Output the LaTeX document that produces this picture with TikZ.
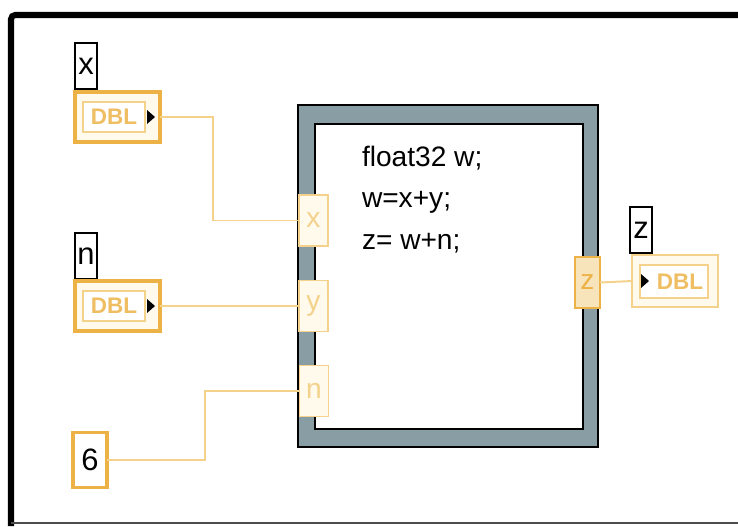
\documentclass[tikz,border=0pt]{standalone}
\usepackage{fontspec}
\setmainfont{Liberation Sans}
\usepackage{xcolor}
\usepackage{tikz}
\definecolor{lvorange}{RGB}{236,178,70}
\definecolor{lvlight}{RGB}{244,210,140}
\definecolor{lvfill}{RGB}{255,250,236}
\definecolor{lvgray}{RGB}{136,158,164}
\newcommand{\lvtxt}[1]{\fontsize{#1}{#1}\selectfont}

\begin{document}
\begin{tikzpicture}[
    x=0.25mm, y=-0.25mm,
    every node/.style={inner sep=0pt, outer sep=0pt},
    lbl/.style={draw, line width=1.4pt, fill=white, minimum width=5.5mm,
                minimum height=11.5mm, font=\lvtxt{22}},
    ctl/.style={draw=lvorange, line width=2.8pt, fill=lvfill,
                minimum width=21.25mm, minimum height=12.5mm},
    ind/.style={draw=lvlight, line width=1.4pt, fill=lvfill,
                minimum width=21.5mm, minimum height=13mm},
    dbl/.style={draw=lvlight, line width=1.2pt, fill=white,
                minimum width=15.5mm, minimum height=7.5mm,
                text=lvorange!85, font=\lvtxt{16}\bfseries},
    tun/.style={draw=lvlight, line width=1.4pt, fill=lvfill,
                minimum width=7.25mm, minimum height=12.75mm,
                text=lvlight, font=\lvtxt{20}},
    wire/.style={lvlight, line width=1.4pt},
  ]
  \useasboundingbox (0,0) rectangle (738,526);

  %% ---- panel frame ---------------------------------------------------
  \draw[line width=4.3pt, rounded corners=3pt] (11,526) -- (11,15) -- (738,15);
  \draw[black!70, line width=1.2pt] (11,523) -- (738,523);

  %% ---- formula node --------------------------------------------------
  \node[draw, line width=1.4pt, fill=lvgray, minimum width=75mm,
        minimum height=85.5mm] (fnout) at (448,276) {};
  \node[draw, line width=1.4pt, fill=white, minimum width=67mm,
        minimum height=76.25mm] (fnin) at (449,276.5) {};
  \node[font=\lvtxt{20}, align=left, anchor=north west] (code) at (362,146)
    {float32 w;\\[9.5pt] w=x+y;\\[9.5pt] z= w+n;};

  \node[tun] (tx) at (313.5,220.5) {x};
  \node[tun] (ty) at (313.5,306) {y};
  \node[tun] (tn) at (314,391) {n};
  \node[tun, draw=lvorange, line width=2pt, fill=lvlight!60,
        text=lvorange, minimum width=6.25mm] (tz) at (587.5,282.5) {z};

  %% ---- controls and constant (left) ----------------------------------
  \node[lbl] (xlbl) at (86,66) {\raisebox{-1.2mm}{x}};
  \node[ctl] (xctl) at (117.5,117) {};
  \node[dbl] (xdbl) at (114,117) {DBL};
  \fill (xctl.east) ++(-13,-7) -- ++(8,7) -- ++(-8,7) -- cycle;

  \node[lbl] (nlbl) at (86,256) {\raisebox{-1.2mm}{n}};
  \node[ctl] (nctl) at (117.5,306) {};
  \node[dbl] (ndbl) at (114,306) {DBL};
  \fill (nctl.east) ++(-13,-7) -- ++(8,7) -- ++(-8,7) -- cycle;

  \node[draw=lvorange, line width=2.8pt, fill=white, minimum width=8.5mm,
        minimum height=13.75mm, font=\lvtxt{22}] (six) at (90,460) {6};

  %% ---- indicator (right) ---------------------------------------------
  \node[lbl] (zlbl) at (641,230) {\raisebox{-1.2mm}{z}};
  \node[ind] (zind) at (675,281) {};
  \node[dbl, minimum width=17mm, minimum height=8.25mm] (zdbl)
    at (674,281.5) {\hspace*{3mm}DBL};
  \fill (zind.west) ++(9,-7) -- ++(8,7) -- ++(-8,7) -- cycle;

  %% ---- wires ---------------------------------------------------------
  \draw[wire] (xctl.east) -- ++(53,0) |- (tx.west);
  \draw[wire] (nctl.east) -- (ty.west);
  \draw[wire] (six.east) -- ++(98,0) |- (tn.west);
  \draw[wire] (tz.east) -- (zind.west);

\end{tikzpicture}
\end{document}
